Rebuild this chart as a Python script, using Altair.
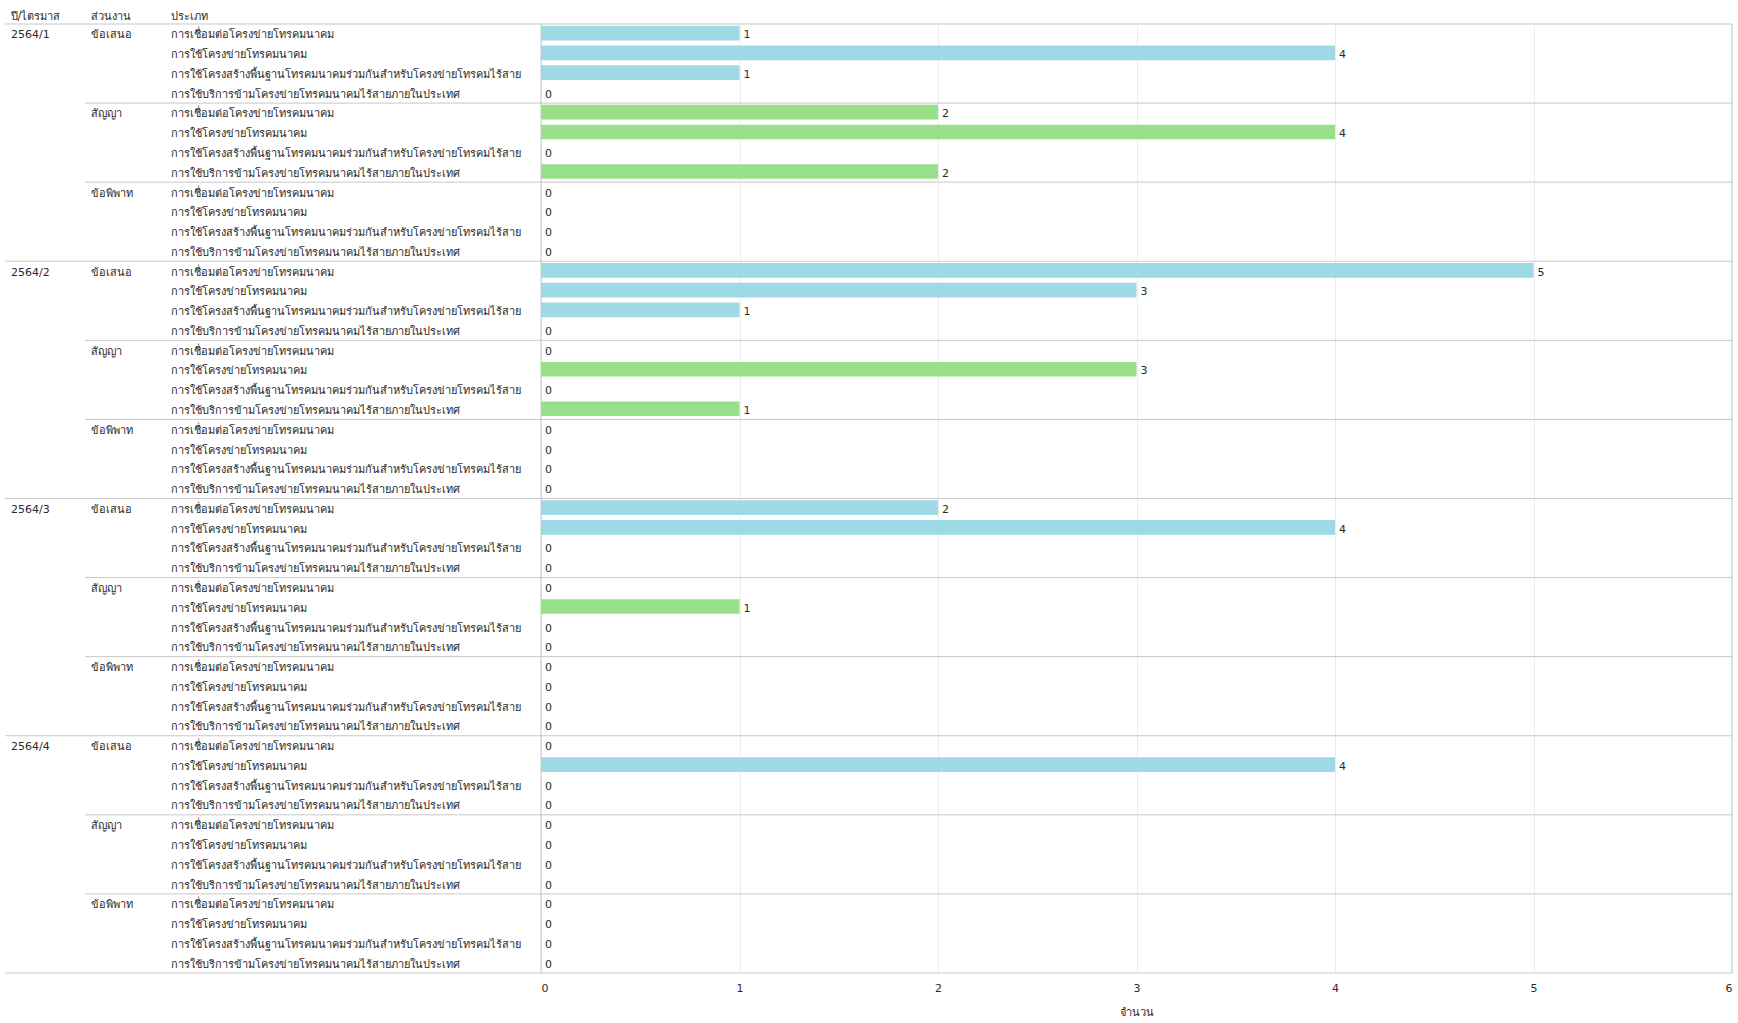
import altair as alt
import pandas as pd

FONT = "'DejaVu Sans', Tahoma, sans-serif"
TXT = "#2a2a2a"
LINE = "#c8c8c8"

quarters = ["2564/1", "2564/2", "2564/3", "2564/4"]
departments = ["ข้อเสนอ", "สัญญา", "ข้อพิพาท"]
types = [
    "การเชื่อมต่อโครงข่ายโทรคมนาคม",
    "การใช้โครงข่ายโทรคมนาคม",
    "การใช้โครงสร้างพื้นฐานโทรคมนาคมร่วมกันสำหรับโครงข่ายโทรคมไร้สาย",
    "การใช้บริการข้ามโครงข่ายโทรคมนาคมไร้สายภายในประเทศ",
]

# values per quarter, per department, in the order of `types`
q1_offer = [1, 4, 1, 0]
q1_contract = [2, 4, 0, 2]
q1_dispute = [0, 0, 0, 0]
q2_offer = [5, 3, 1, 0]
q2_contract = [0, 3, 0, 1]
q2_dispute = [0, 0, 0, 0]
q3_offer = [2, 4, 0, 0]
q3_contract = [0, 1, 0, 0]
q3_dispute = [0, 0, 0, 0]
q4_offer = [0, 4, 0, 0]
q4_contract = [0, 0, 0, 0]
q4_dispute = [0, 0, 0, 0]

values = [
    [q1_offer, q1_contract, q1_dispute],
    [q2_offer, q2_contract, q2_dispute],
    [q3_offer, q3_contract, q3_dispute],
    [q4_offer, q4_contract, q4_dispute],
]

rows = []
i = 0
for qi, q in enumerate(quarters):
    for di, d in enumerate(departments):
        for ti, t in enumerate(types):
            rows.append(dict(
                row=i, quarter=q, dept=d, type=t,
                value=values[qi][di][ti],
                qlabel=q if (di == 0 and ti == 0) else "",
                dlabel=d if ti == 0 else "",
            ))
            i += 1
df = pd.DataFrame(rows)
NROWS = len(df)

bounds = pd.DataFrame([
    {"b": k * len(types), "kind": "quarter" if k % len(departments) == 0 else "dept"}
    for k in range(NROWS // len(types) + 1)
])

H = 949
W1, W2, W3, W4 = 80, 80, 376, 1191

yscale = alt.Scale(domain=[0, NROWS], reverse=True, nice=False, zero=False)


def title(t):
    return alt.TitleParams(t, anchor="start", fontSize=11, fontWeight="normal",
                           font=FONT, color=TXT, offset=2, dx=6)


def rules(data, width):
    return alt.Chart(data).mark_rule(color=LINE, strokeWidth=1).encode(
        y=alt.Y("b:Q", scale=yscale, axis=None),
        x=alt.value(0), x2=alt.value(width),
    )


def text_col(field, width):
    return alt.Chart(df).transform_filter(
        f"datum.{field} != ''"
    ).transform_calculate(yc="datum.row + 0.5").mark_text(
        align="left", baseline="middle", dx=6, dy=1.5, fontSize=11, font=FONT, color=TXT
    ).encode(
        y=alt.Y("yc:Q", scale=yscale, axis=None),
        x=alt.value(0),
        text=f"{field}:N",
    )


qbounds = bounds[bounds["kind"] == "quarter"]

p1 = alt.layer(rules(qbounds, W1), text_col("qlabel", W1)).properties(
    width=W1, height=H, title=title("ปี/ไตรมาส"))
p2 = alt.layer(rules(bounds, W2), text_col("dlabel", W2)).properties(
    width=W2, height=H, title=title("ส่วนงาน"))
p3 = alt.layer(rules(bounds, W3), text_col("type", W3)).properties(
    width=W3, height=H, title=title("ประเภท"))

xscale = alt.Scale(domain=[0, 6], nice=False, zero=True)

bars = alt.Chart(df).transform_calculate(
    y0="datum.row + 0.09", y1="datum.row + 0.83"
).mark_bar().encode(
    x=alt.X("value:Q", scale=xscale, axis=alt.Axis(
        values=[0, 1, 2, 3, 4, 5, 6], format="d", grid=True, gridColor="#ececec",
        ticks=False, domain=False, labelPadding=9, labelFontSize=11, labelFont=FONT,
        labelColor=TXT, title="จำนวน", titlePadding=13, titleFontSize=11,
        titleFontWeight="normal", titleFont=FONT, titleColor=TXT)),
    x2=alt.datum(0),
    y=alt.Y("y0:Q", scale=yscale, axis=None),
    y2="y1:Q",
    color=alt.Color("dept:N", scale=alt.Scale(domain=departments,
                    range=["#9edae5", "#98df8a", "#ff9896"]), legend=None),
)

labels = alt.Chart(df).transform_calculate(yc="datum.row + 0.5").mark_text(
    align="left", baseline="middle", dx=4, dy=1.5, fontSize=11, font=FONT, color=TXT
).encode(
    x=alt.X("value:Q", scale=xscale),
    y=alt.Y("yc:Q", scale=yscale, axis=None),
    text=alt.Text("value:Q", format="d"),
)

vborders = alt.Chart(pd.DataFrame({"v": [0, 6]})).mark_rule(color=LINE, strokeWidth=1).encode(
    x=alt.X("v:Q", scale=xscale),
    y=alt.value(0), y2=alt.value(H),
)

p4 = alt.layer(bars, rules(bounds, W4), vborders, labels).properties(
    width=W4, height=H, title=title(" "))

chart = alt.hconcat(p1, p2, p3, p4, spacing=0, bounds="flush").properties(
    padding={"left": 4, "top": 10, "right": 0, "bottom": 0}
).configure(font=FONT).configure_view(strokeWidth=0, stroke="transparent")

chart.save("out.html", embed_options={"renderer": "svg", "actions": False})
